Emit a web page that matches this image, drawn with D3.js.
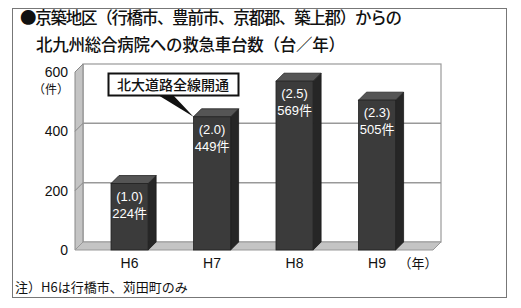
<!DOCTYPE html>
<html>
<head>
<meta charset="utf-8">
<script src="https://cdn.jsdelivr.net/npm/d3@7"></script>
<style>
    body { margin: 0; background: #fff; }
    svg { display: block; }
    text { font-family: 'Liberation Sans', 'Noto Sans CJK JP', sans-serif; }
    .jp { font-family: 'Noto Sans CJK JP', sans-serif; }
</style>
</head>
<body>
<svg id="chart" width="521" height="308"></svg>
<script>
'use strict';

var titleLines = ['●京築地区（行橋市、豊前市、京都郡、築上郡）からの', '北九州総合病院への救急車台数（台／年）'];
var years = ['H6', 'H7', 'H8', 'H9'];
var counts = [224, 449, 569, 505];
var ratios = ['1.0', '2.0', '2.5', '2.3'];
var yTicks = [0, 200, 400, 600];
var callout = '北大道路全線開通';
var note = '注）H6は行橋市、苅田町のみ';

var svg = d3.select('#chart');
var depth = 8;
var floorLeft = 75, floorRight = 433;

var x = d3.scaleBand()
    .domain(years)
    .range([111, 395.6])
    .paddingInner(0.55)
    .paddingOuter(0);
var y = d3.scaleLinear()
    .domain([0, 600])
    .range([250, 72]);

// outer frame
svg.append('rect')
    .attr('x', 12.5).attr('y', 8.5)
    .attr('width', 494).attr('height', 289)
    .attr('fill', 'none')
    .attr('stroke', '#777')
    .attr('stroke-width', 1);

// title (line widths)
var titleX = [20, 36], titleW = [382, 309];
svg.selectAll('.title')
    .data(titleLines)
    .enter().append('text')
    .attr('class', 'title jp')
    .attr('x', function(d, i) { return titleX[i]; })
    .attr('y', function(d, i) { return 24 + i * 27; })
    .attr('font-size', 16.5)
    .attr('font-weight', 500)
    .attr('textLength', function(d, i) { return titleW[i]; })
    .attr('lengthAdjust', 'spacing')
    .attr('fill', '#111')
    .text(function(d) { return d; });

// back wall
svg.append('rect')
    .attr('x', floorLeft + depth).attr('y', y(600) - depth)
    .attr('width', floorRight - floorLeft).attr('height', y(0) - y(600))
    .attr('fill', '#fff')
    .attr('stroke', '#999')
    .attr('stroke-width', 1.2);

// left wall
svg.append('polygon')
    .attr('points', [
        [floorLeft, y(0)], [floorLeft, y(600)],
        [floorLeft + depth, y(600) - depth], [floorLeft + depth, y(0) - depth]
    ].join(' '))
    .attr('fill', '#c4c4c4')
    .attr('stroke', '#888')
    .attr('stroke-width', 1);

// floor
svg.append('polygon')
    .attr('points', [
        [floorLeft, y(0)], [floorRight, y(0)],
        [floorRight + depth, y(0) - depth], [floorLeft + depth, y(0) - depth]
    ].join(' '))
    .attr('fill', '#c4c4c4')
    .attr('stroke', '#999')
    .attr('stroke-width', 1);

// grid lines on the back and side walls
var grid = svg.selectAll('.grid')
    .data(yTicks.filter(function(d) { return d > 0 && d < 600; }))
    .enter().append('g')
    .attr('class', 'grid');
grid.append('line')
    .attr('x1', floorLeft + depth).attr('x2', floorRight + depth)
    .attr('y1', function(d) { return y(d) - depth; })
    .attr('y2', function(d) { return y(d) - depth; })
    .attr('stroke', '#999')
    .attr('stroke-width', 1.5);
grid.append('line')
    .attr('x1', floorLeft).attr('x2', floorLeft + depth)
    .attr('y1', function(d) { return y(d); })
    .attr('y2', function(d) { return y(d) - depth; })
    .attr('stroke', '#888')
    .attr('stroke-width', 1);

// y tick labels
svg.selectAll('.ytick')
    .data(yTicks)
    .enter().append('text')
    .attr('class', 'ytick')
    .attr('x', 68)
    .attr('y', function(d) { return y(d) + 5; })
    .attr('text-anchor', 'end')
    .attr('font-size', 14)
    .attr('fill', '#111')
    .text(function(d) { return d; });
svg.append('text')
    .attr('class', 'jp')
    .attr('x', 69).attr('y', y(600) + 22)
    .attr('text-anchor', 'end')
    .attr('font-size', 12)
    .attr('fill', '#111')
    .text('（件）');

// bars
var data = years.map(function(d, i) { return { year: d, count: counts[i], ratio: ratios[i] }; });
var bars = svg.selectAll('.bar')
    .data(data)
    .enter().append('g')
    .attr('class', 'bar');
bars.append('polygon')
    .attr('points', function(d) {
        var x1 = x(d.year) + x.bandwidth();
        return [[x1, y(0)], [x1, y(d.count)], [x1 + depth, y(d.count) - depth], [x1 + depth, y(0) - depth]].join(' ');
    })
    .attr('fill', '#262626')
    .attr('stroke', '#1a1a1a')
    .attr('stroke-width', 0.8);
bars.append('polygon')
    .attr('points', function(d) {
        var x0 = x(d.year), x1 = x0 + x.bandwidth(), t = y(d.count);
        return [[x0, t], [x1, t], [x1 + depth, t - depth], [x0 + depth, t - depth]].join(' ');
    })
    .attr('fill', '#555')
    .attr('stroke', '#222')
    .attr('stroke-width', 0.8);
bars.append('rect')
    .attr('x', function(d) { return x(d.year); })
    .attr('y', function(d) { return y(d.count); })
    .attr('width', x.bandwidth())
    .attr('height', function(d) { return y(0) - y(d.count); })
    .attr('fill', '#3b3b3b')
    .attr('stroke', '#222')
    .attr('stroke-width', 0.8);
bars.append('text')
    .attr('x', function(d) { return x(d.year) + x.bandwidth() / 2; })
    .attr('y', function(d) { return y(d.count) + 17; })
    .attr('text-anchor', 'middle')
    .attr('font-size', 13)
    .attr('fill', '#fff')
    .text(function(d) { return '(' + d.ratio + ')'; });
bars.append('text')
    .attr('x', function(d) { return x(d.year) + x.bandwidth() / 2; })
    .attr('y', function(d) { return y(d.count) + 34; })
    .attr('text-anchor', 'middle')
    .attr('font-size', 13)
    .attr('fill', '#fff')
    .text(function(d) { return d.count + '件'; });

// x labels
svg.selectAll('.xlabel')
    .data(years)
    .enter().append('text')
    .attr('class', 'xlabel')
    .attr('x', function(d) { return x(d) + x.bandwidth() / 2; })
    .attr('y', 268)
    .attr('text-anchor', 'middle')
    .attr('font-size', 14)
    .attr('fill', '#111')
    .text(function(d) { return d; });
svg.append('text')
    .attr('class', 'jp')
    .attr('x', 418).attr('y', 268)
    .attr('text-anchor', 'middle')
    .attr('font-size', 13)
    .attr('fill', '#111')
    .text('（年）');

// callout for H7
var tipX = x('H7'), tipY = y(counts[1]);
svg.append('polygon')
    .attr('points', [[158, 95], [173, 95], [tipX, tipY]].join(' '))
    .attr('fill', '#111');
svg.append('rect')
    .attr('x', 108.5).attr('y', 73.5)
    .attr('width', 130).attr('height', 22)
    .attr('fill', '#fff')
    .attr('stroke', '#111')
    .attr('stroke-width', 2);
svg.append('text')
    .attr('class', 'jp')
    .attr('x', 173).attr('y', 89.5)
    .attr('text-anchor', 'middle')
    .attr('font-size', 14)
    .attr('font-weight', 500)
    .attr('fill', '#111')
    .text(callout);

// note
svg.append('text')
    .attr('class', 'jp')
    .attr('x', 15).attr('y', 292)
    .attr('font-size', 13)
    .attr('fill', '#111')
    .text(note);
</script>
</body>
</html>
